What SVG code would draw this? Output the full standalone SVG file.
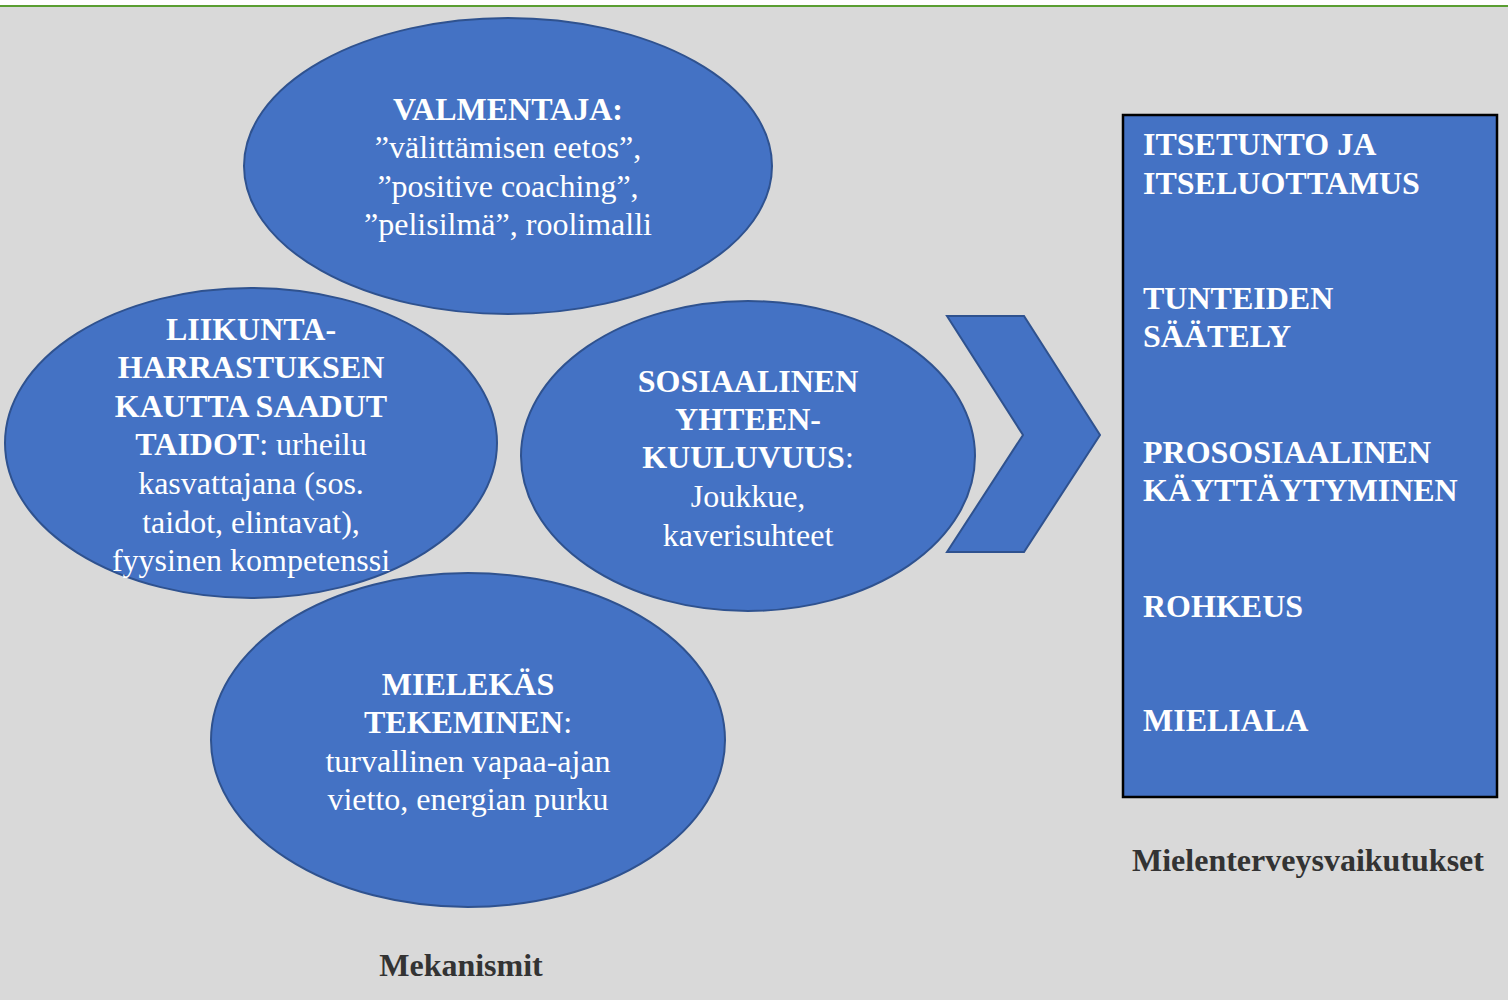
<svg xmlns="http://www.w3.org/2000/svg" width="1508" height="1000" viewBox="0 0 1508 1000">
<style>
.bub{fill:#4472c4;stroke:#2f528f;stroke-width:2}
.t{font-family:"Liberation Serif","Times New Roman",serif;font-size:32px;fill:#fff;text-anchor:middle}
.b{font-weight:bold}
.r{font-family:"Liberation Serif","Times New Roman",serif;font-size:32px;fill:#fff;font-weight:bold}
.lab{font-family:"Liberation Serif","Times New Roman",serif;font-size:32px;fill:#333;font-weight:bold;text-anchor:middle}
</style>
<rect x="0" y="0" width="1508" height="1000" fill="#d9d9d9"/>
<rect x="0" y="0" width="1508" height="5" fill="#ffffff"/>
<rect x="0" y="5" width="1508" height="2" fill="#5a9e32"/>
<g id="valmentaja">
<ellipse class="bub" cx="508" cy="166" rx="264" ry="148"/>
<text class="t" x="508" y="120"><tspan class="b">VALMENTAJA:</tspan></text>
<text class="t" x="508" y="158">”välittämisen eetos”,</text>
<text class="t" x="508" y="197">”positive coaching”,</text>
<text class="t" x="508" y="235">”pelisilmä”, roolimalli</text>
</g>
<g id="mielekas">
<ellipse class="bub" cx="468" cy="740" rx="257" ry="167"/>
<text class="t" x="468" y="695"><tspan class="b">MIELEKÄS</tspan></text>
<text class="t" x="468" y="733"><tspan class="b">TEKEMINEN</tspan>:</text>
<text class="t" x="468" y="772">turvallinen vapaa-ajan</text>
<text class="t" x="468" y="810">vietto, energian purku</text>
</g>
<g id="liikunta">
<ellipse class="bub" cx="251" cy="443" rx="246" ry="155"/>
<text class="t" x="251" y="340"><tspan class="b">LIIKUNTA-</tspan></text>
<text class="t" x="251" y="378"><tspan class="b">HARRASTUKSEN</tspan></text>
<text class="t" x="251" y="417"><tspan class="b">KAUTTA SAADUT</tspan></text>
<text class="t" x="251" y="455"><tspan class="b">TAIDOT</tspan>: urheilu</text>
<text class="t" x="251" y="494">kasvattajana (sos.</text>
<text class="t" x="251" y="533">taidot, elintavat),</text>
<text class="t" x="251" y="571">fyysinen kompetenssi</text>
</g>
<g id="sosiaalinen">
<ellipse class="bub" cx="748" cy="456" rx="227" ry="155"/>
<text class="t" x="748" y="392"><tspan class="b">SOSIAALINEN</tspan></text>
<text class="t" x="748" y="430"><tspan class="b">YHTEEN-</tspan></text>
<text class="t" x="748" y="468"><tspan class="b">KUULUVUUS</tspan>:</text>
<text class="t" x="748" y="507">Joukkue,</text>
<text class="t" x="748" y="546">kaverisuhteet</text>
</g>
<g id="connectors">
<polygon class="bub" points="947,316 1024,316 1100,435 1024,552 947,552 1023,435"/>
</g>
<g id="vaikutukset">
<rect x="1123" y="115" width="374" height="682" fill="#4472c4" stroke="#000" stroke-width="2.5"/>
<text class="r" x="1143" y="155">ITSETUNTO JA</text>
<text class="r" x="1143" y="194">ITSELUOTTAMUS</text>
<text class="r" x="1143" y="309">TUNTEIDEN</text>
<text class="r" x="1143" y="347">SÄÄTELY</text>
<text class="r" x="1143" y="463">PROSOSIAALINEN</text>
<text class="r" x="1143" y="501">KÄYTTÄYTYMINEN</text>
<text class="r" x="1143" y="617">ROHKEUS</text>
<text class="r" x="1143" y="731">MIELIALA</text>
</g>
<text class="lab" x="1308" y="871">Mielenterveysvaikutukset</text>
<text class="lab" x="461" y="976">Mekanismit</text>
</svg>
